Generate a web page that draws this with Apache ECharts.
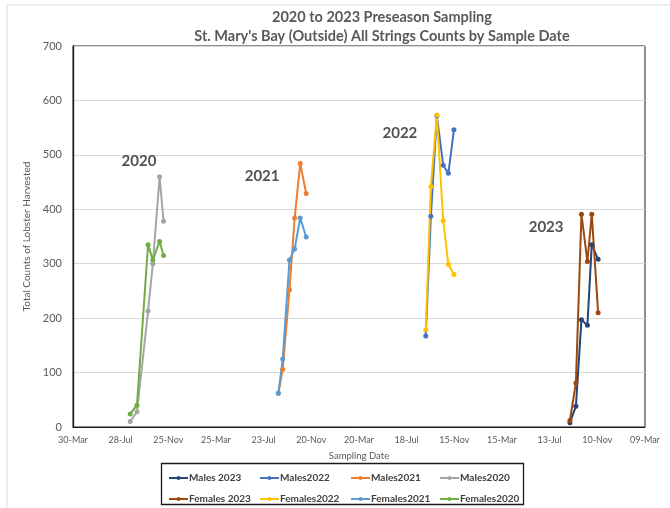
<!DOCTYPE html>
<html>
<head>
<meta charset="utf-8">
<script src="https://cdn.jsdelivr.net/npm/echarts@6/dist/echarts.min.js"></script>
<style>
  html, body { margin: 0; padding: 0; background: #fff; }
  #chart { width: 670px; height: 508px; }
</style>
</head>
<body>
<div id="chart"></div>
<script>
// Sampling dates for each preseason
const dates2020 = ['2020-08-21', '2020-09-07', '2020-10-05', '2020-10-17', '2020-11-03', '2020-11-13'];
const dates2021 = ['2021-08-29', '2021-09-09', '2021-09-26', '2021-10-09', '2021-10-23', '2021-11-07'];
const dates2022 = ['2022-09-04', '2022-09-17', '2022-10-02', '2022-10-18', '2022-10-31', '2022-11-14'];
const dates2023 = ['2023-09-02', '2023-09-17', '2023-10-01', '2023-10-16', '2023-10-27', '2023-11-12'];

// Total counts of lobster harvested
const males2023   = [8, 38, 197, 187, 335, 308];
const males2022   = [167, 387, 572, 481, 466, 546];
const males2021   = [62, 106, 252, 384, 484, 429];
const males2020   = [10, 28, 213, 300, 460, 378];
const females2023 = [12, 81, 391, 304, 391, 210];
const females2022 = [178, 442, 573, 379, 299, 280];
const females2021 = [62, 125, 307, 327, 384, 349];
const females2020 = [24, 40, 335, 307, 341, 315];

// Season labels placed in data space
const seasonLabels = [
  ['2020-09-12', 489, '2020'],
  ['2021-07-19', 460, '2021'],
  ['2022-07-01', 540, '2022'],
  ['2023-07-04', 368, '2023']
];

// Axis extent (spreadsheet date serials, 120-day steps)
const xMinDate = '2020-03-30';
const xMaxDate = '2024-03-09';
const xStepDays = 120;
const yMin = 0, yMax = 700, yStep = 100;

const MONTHS = ['Jan','Feb','Mar','Apr','May','Jun','Jul','Aug','Sep','Oct','Nov','Dec'];
const EPOCH = Date.UTC(1899, 11, 30);
function toSerial(iso) {
  const p = iso.split('-').map(Number);
  return Math.round((Date.UTC(p[0], p[1] - 1, p[2]) - EPOCH) / 86400000);
}
function serialLabel(v) {
  const d = new Date(EPOCH + v * 86400000);
  const dd = String(d.getUTCDate()).padStart(2, '0');
  return dd + '-' + MONTHS[d.getUTCMonth()];
}
function pairs(dates, vals) {
  return dates.map((d, i) => [toSerial(d), vals[i]]);
}

const FONT = 'Lato, "Open Sans", sans-serif';
const seriesDefs = [
  ['Males 2023',   dates2023, males2023,   '#264478'],
  ['Males2022',    dates2022, males2022,   '#4472C4'],
  ['Males2021',    dates2021, males2021,   '#ED7D31'],
  ['Males2020',    dates2020, males2020,   '#A5A5A5'],
  ['Females 2023', dates2023, females2023, '#9E480E'],
  ['Females2022',  dates2022, females2022, '#FFC000'],
  ['Females2021',  dates2021, females2021, '#5B9BD5'],
  ['Females2020',  dates2020, females2020, '#70AD47']
];

const series = seriesDefs.map(([name, d, v, color]) => ({
  name: name,
  type: 'line',
  data: pairs(d, v),
  color: color,
  symbol: 'circle',
  symbolSize: 5,
  showSymbol: true,
  lineStyle: { width: 2, color: color },
  itemStyle: { color: color },
  emphasis: { disabled: true },
  z: 3
}));

series.push({
  name: 'season',
  type: 'scatter',
  data: seasonLabels.map(s => [toSerial(s[0]), s[1], s[2]]),
  symbolSize: 0,
  silent: true,
  label: {
    show: true,
    position: 'inside',
    formatter: p => p.data[2],
    fontFamily: FONT,
    fontSize: 15,
    fontWeight: 'bold',
    color: '#262626'
  },
  z: 4
});

// Legend laid out as a 4 x 2 grid of single-entry legends
const legendCols = [163, 254, 345, 434];
const legendRows = [468, 489];
const legends = seriesDefs.map(([name], i) => ({
  left: legendCols[i % 4],
  top: legendRows[Math.floor(i / 4)],
  data: [name],
  itemWidth: 19,
  itemHeight: 5,
  itemGap: 0,
  selectedMode: false,
  textStyle: { fontFamily: FONT, fontSize: 10, fontWeight: 'bold', color: '#404040', padding: [0, 0, 0, -4] }
}));

const chart = echarts.init(document.getElementById('chart'), null, { renderer: 'canvas' });
chart.setOption({
  animation: false,
  backgroundColor: '#fff',
  grid: { left: 73, right: 25, top: 46, bottom: 81, show: true, borderColor: '#1a1a1a', borderWidth: 1, containLabel: false },
  graphic: [
    { type: 'rect', shape: { x: 7, y: 5, width: 700, height: 600 }, style: { fill: 'none', stroke: '#d9d9d9', lineWidth: 1 }, silent: true, z: -1 },
    { type: 'text', x: 382, y: 17, style: { text: '2020 to 2023 Preseason Sampling', fontFamily: FONT, fontSize: 14.5, fontWeight: 'bold', fill: '#595959', align: 'center', verticalAlign: 'middle' } },
    { type: 'text', x: 382, y: 36, style: { text: "St. Mary's Bay (Outside) All Strings Counts by Sample Date", fontFamily: FONT, fontSize: 14.5, fontWeight: 'bold', fill: '#595959', align: 'center', verticalAlign: 'middle' } },
    { type: 'rect', shape: { x: 161.5, y: 463.5, width: 362, height: 41 }, style: { fill: 'none', stroke: '#1a1a1a', lineWidth: 1.3 }, silent: true }
  ],
  legend: legends,
  xAxis: {
    type: 'value',
    min: toSerial(xMinDate),
    max: toSerial(xMaxDate),
    interval: xStepDays,
    name: 'Sampling Date',
    nameLocation: 'middle',
    nameGap: 24,
    nameTextStyle: { fontFamily: FONT, fontSize: 9.5, color: '#595959' },
    axisLine: { show: true, onZero: false, lineStyle: { color: '#1a1a1a' } },
    axisTick: { show: false },
    splitLine: { show: false },
    axisLabel: { formatter: serialLabel, fontFamily: FONT, fontSize: 9, color: '#595959', margin: 9, showMinLabel: true, showMaxLabel: true }
  },
  yAxis: {
    type: 'value',
    min: yMin,
    max: yMax,
    interval: yStep,
    name: 'Total Counts of Lobster Harvested',
    nameLocation: 'middle',
    nameGap: 38,
    nameTextStyle: { fontFamily: FONT, fontSize: 10, color: '#595959' },
    axisLine: { show: true, lineStyle: { color: '#1a1a1a', width: 1.3 } },
    axisTick: { show: false },
    splitLine: { show: true, lineStyle: { color: '#d9d9d9', width: 1 } },
    axisLabel: { fontFamily: FONT, fontSize: 11, color: '#595959', margin: 11 }
  },
  series: series
});
</script>
</body>
</html>
